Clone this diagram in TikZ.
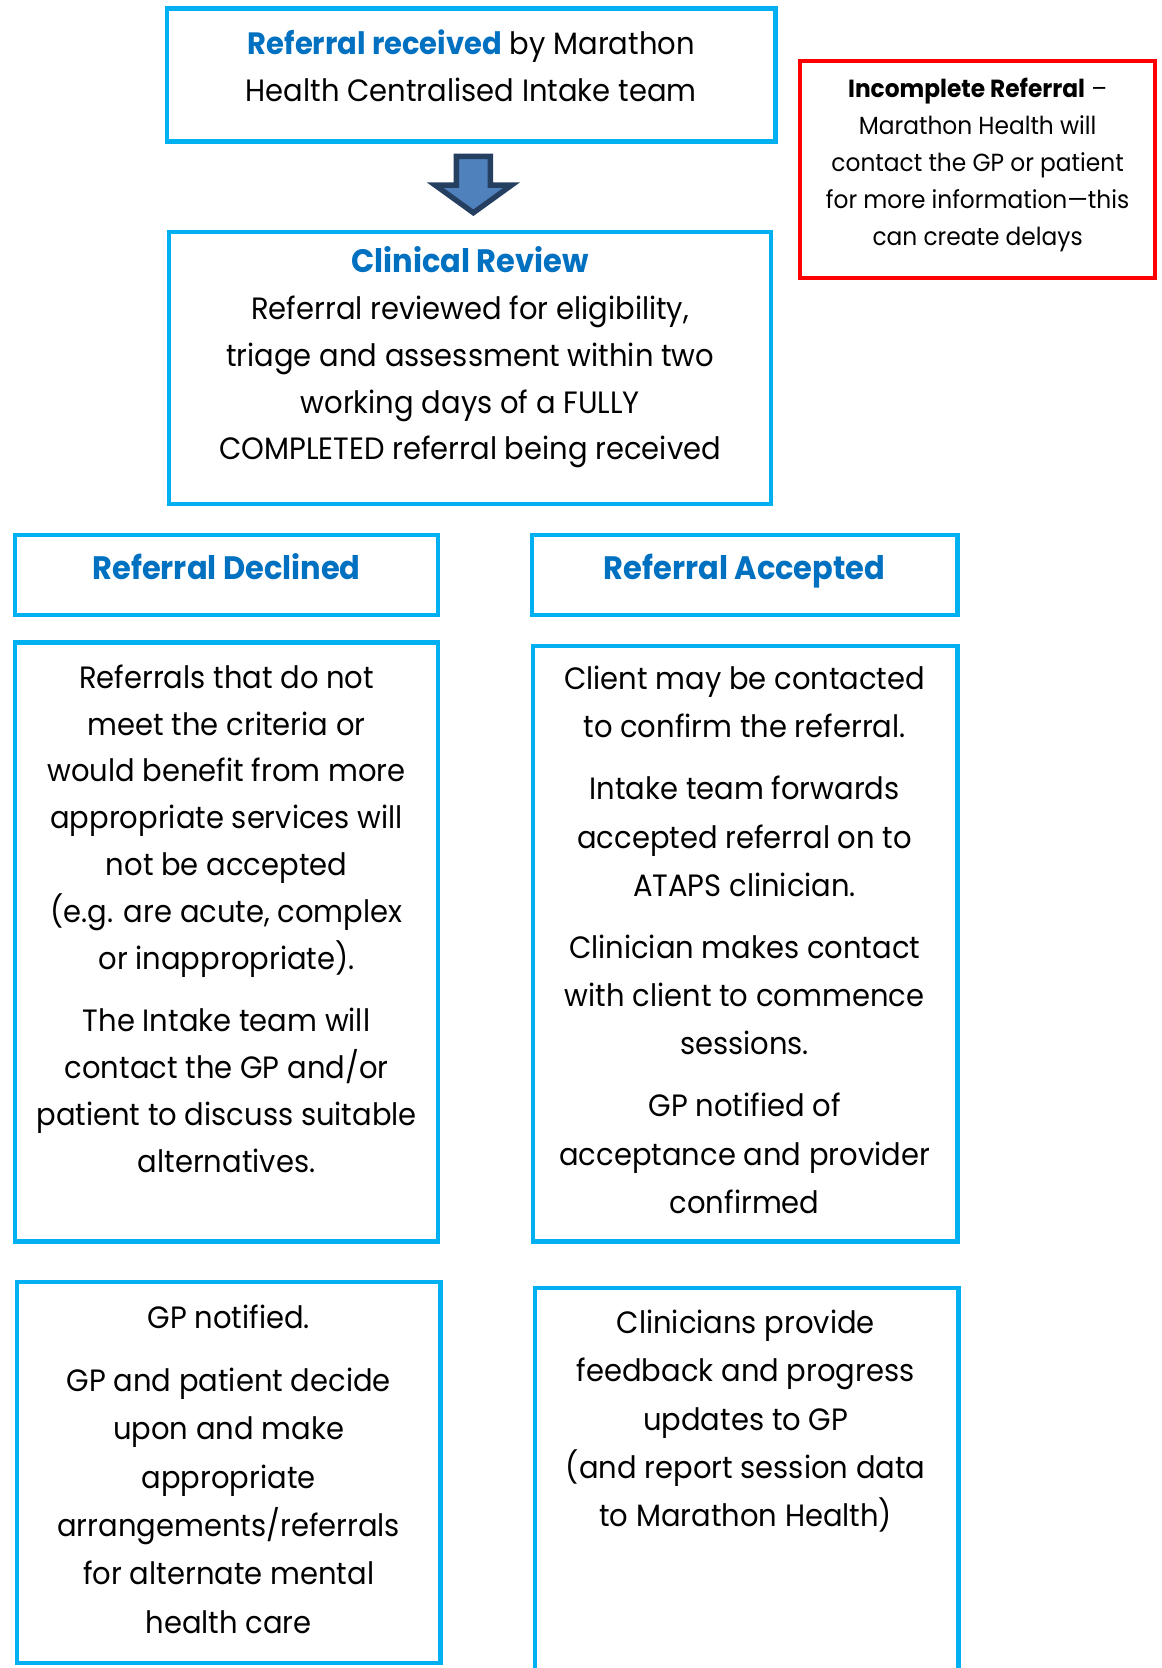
\documentclass[tikz,border=0pt]{standalone}
\usepackage{fontspec}
\setmainfont{Poppins}[FakeStretch=0.94]
\definecolor{cyanline}{HTML}{00B0F0}
\definecolor{titleblue}{HTML}{0070C0}
\definecolor{redline}{HTML}{FF0000}
\definecolor{arrowfill}{HTML}{4F81BD}
\definecolor{arrowline}{HTML}{243F60}
\tikzset{
  box/.style={draw=cyanline, line width=4pt, rectangle, inner sep=0pt, anchor=north west},
  redbox/.style={draw=redline, line width=4pt, rectangle, inner sep=0pt, anchor=north west},
  txt/.style={align=center, inner sep=0pt, font=\fontsize{29}{44}\selectfont},
  txtr/.style={align=center, inner sep=0pt, font=\fontsize{29}{45.5}\selectfont},
  smalltxt/.style={align=center, inner sep=0pt, font=\fontsize{23.3}{34.75}\selectfont},
  ttl/.style={align=center, inner sep=0pt, anchor=base, font=\fontsize{30.5}{44}\selectfont\bfseries, text=titleblue},
}
\begin{document}
\begin{tikzpicture}[x=1pt,y=-1pt]
\useasboundingbox (0,0) rectangle (1092,1568);
\clip (0,0) rectangle (1092,1568);
% top box
\node[box, minimum width=572, minimum height=125] (b1) at (155,6) {};
\node[txt] (t1) at (443,62) {{\color{titleblue}\bfseries Referral received} by Marathon\\Health Centralised Intake team};
% arrow
\draw[fill=arrowfill, draw=arrowline, line width=5pt, line join=miter]
  (429,147) -- (461,147) -- (461,174) -- (481,174) -- (445,200) -- (409,174) -- (429,174) -- cycle;
% clinical review
\node[box, minimum width=566, minimum height=256] (b2) at (157,216) {};
\node[txt] (t2) at (442,336) {{\color{titleblue}\bfseries\fontsize{30.5}{44}\selectfont Clinical Review}\\Referral reviewed for eligibility,\\triage and assessment within two\\working days of a FULLY\\COMPLETED referral being received};
% red box
\node[redbox, minimum width=334, minimum height=204] (r1) at (750,55) {};
\node[smalltxt] (tr) at (919,155) {{\bfseries Incomplete Referral} –\\Marathon Health will\\contact the GP or patient\\for more information—this\\can create delays};
% declined / accepted headers
\node[box, minimum width=398, minimum height=75] (bd) at (12,501) {};
\node[ttl] (td) at (213,545) {Referral Declined};
\node[box, minimum width=400, minimum height=75] (ba) at (498,501) {};
\node[ttl] (ta) at (700,545) {Referral Accepted};
% left big
\node[box, minimum width=398, minimum height=563] (bl) at (12,602) {};
\node[txt] (tl) at (213,863.5) {Referrals that do not\\meet the criteria or\\would benefit from more\\appropriate services will\\not be accepted\\(e.g. are acute, complex\\or inappropriate).\\[15pt]The Intake team will\\contact the GP and/or\\patient to discuss suitable\\alternatives.};
% right big
\node[box, minimum width=399, minimum height=560] (br) at (499,605) {};
\node[txtr] (tr2) at (700,883.5) {Client may be contacted\\to confirm the referral.\\[12.5pt]Intake team forwards\\accepted referral on to\\ATAPS clinician.\\[12.5pt]Clinician makes contact\\with client to commence\\sessions.\\[12.5pt]GP notified of\\acceptance and provider\\confirmed};
% left bottom
\node[box, minimum width=398, minimum height=358] (bl2) at (14,1203) {};
\node[txtr] (tl2) at (215,1381) {GP notified.\\[14pt]GP and patient decide\\upon and make\\appropriate\\arrangements/referrals\\for alternate mental\\health care};
% right bottom
\node[box, minimum width=398, minimum height=420] (br2) at (501,1209) {};
\node[txtr] (tr3) at (701,1336) {Clinicians provide\\feedback and progress\\updates to GP\\(and report session data\\to Marathon Health)};
\end{tikzpicture}
\end{document}
